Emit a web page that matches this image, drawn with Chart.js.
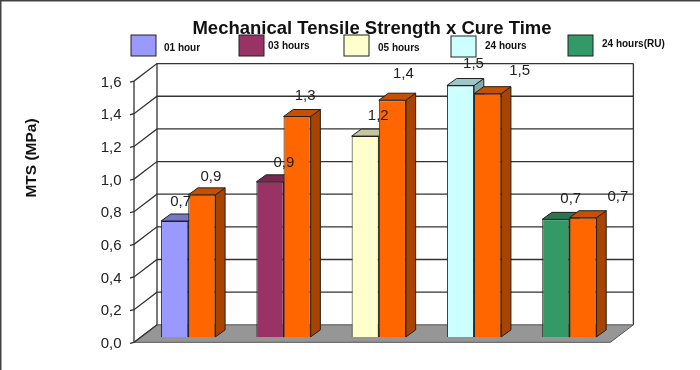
<!DOCTYPE html>
<html lang="en">
<head>
<meta charset="UTF-8">
<title>Mechanical Tensile Strength x Cure Time</title>
<script src="https://cdn.jsdelivr.net/npm/chart.js@4"></script>
<style>
  body { margin: 0; background: #fff; }
  canvas { display: block; }
</style>
</head>
<body>
<canvas id="myChart" width="700" height="370"></canvas>

<script>
var categories = ["01 hour", "03 hours", "05 hours", "24 hours", "24 hours(RU)"];
var firstBars = [0.71, 0.95, 1.23, 1.54, 0.72];
var orangeBars = [0.87, 1.35, 1.45, 1.49, 0.73];
var firstLabels = ["0,7", "0,9", "1,2", "1,5", "0,7"];
var orangeLabels = ["0,9", "1,3", "1,4", "1,5", "0,7"];
var yTicks = ["0,0", "0,2", "0,4", "0,6", "0,8", "1,0", "1,2", "1,4", "1,6"];

var firstColors = ["#9999ff", "#993366", "#ffffcc", "#ccffff", "#339966"];
var orange = "#ff6600";

// label nudges off the top centre of each bar, the original is quite uneven
var firstNudge = [[6, -19], [14, -19], [13, -20], [13, -22], [15, -21]];
var orangeNudge = [[9, -18], [8, -21], [11, -26], [32, -23], [35, -21]];

// legend swatch left, swatch top, text left, text middle
var legendPos = [
    [131, 35, 164, 48],
    [239, 35, 268, 46],
    [344, 35, 378, 48],
    [451, 36, 485, 46],
    [568, 35, 602, 44]
];

function shade(hex, f) {
    var n = parseInt(hex.slice(1), 16);
    var r = Math.round((n >> 16) * f);
    var g = Math.round(((n >> 8) & 255) * f);
    var b = Math.round((n & 255) * f);
    return "rgb(" + r + "," + g + "," + b + ")";
}

function poly(ctx, pts, fill, stroke) {
    ctx.beginPath();
    ctx.moveTo(pts[0][0], pts[0][1]);
    for (var i = 1; i < pts.length; i++) ctx.lineTo(pts[i][0], pts[i][1]);
    ctx.closePath();
    if (fill) { ctx.fillStyle = fill; ctx.fill(); }
    if (stroke) { ctx.strokeStyle = stroke; ctx.lineWidth = 1; ctx.stroke(); }
}

// the bars sit on the chart area, front plane and back wall are offsets from it
var frontDx = -6.6, frontDy = 5.4;
var backDx = 16.4, backDy = -12.1;
var barDepthX = 9.7, barDepthY = 7;

var walls = {
    id: "walls",
    beforeDatasetsDraw: function (chart) {
        var ctx = chart.ctx, y = chart.scales.y, a = chart.chartArea;
        var zero = y.getPixelForValue(0);
        var left = a.left + frontDx, right = a.right + frontDx;
        var line = "#333";
        ctx.save();
        // the photo edge of the original has a dark line on top and left
        ctx.fillStyle = "#444";
        ctx.fillRect(0, 0, 700, 1.5);
        ctx.fillRect(0, 0, 1.5, 370);
        poly(ctx, [
            [left, zero + frontDy],
            [right, zero + frontDy],
            [a.right + backDx, zero + backDy],
            [a.left + backDx, zero + backDy]
        ], "#969696", "#555");
        ctx.strokeStyle = line;
        ctx.lineWidth = 1.3;
        y.ticks.forEach(function (t) {
            var py = y.getPixelForValue(t.value);
            ctx.beginPath();
            ctx.moveTo(left - 4, py + frontDy + 1);
            ctx.lineTo(left, py + frontDy);
            ctx.lineTo(a.left + backDx, py + backDy);
            if (t.value > 0) ctx.lineTo(a.right + backDx, py + backDy);
            ctx.stroke();
        });
        var topY = y.getPixelForValue(1.6);
        ctx.beginPath();
        ctx.moveTo(left, zero + frontDy);
        ctx.lineTo(left, topY + frontDy);
        ctx.moveTo(a.left + backDx, zero + backDy);
        ctx.lineTo(a.left + backDx, topY + backDy);
        ctx.moveTo(a.right + backDx, zero + backDy);
        ctx.lineTo(a.right + backDx, topY + backDy);
        ctx.stroke();
        ctx.restore();
    },
    // datasets are drawn here, left one first, so the orange bars cover its side
    beforeDatasetDraw: function () {
        return false;
    },
    afterDatasetsDraw: function (chart) {
        var ctx = chart.ctx;
        [0, 1].forEach(function (d) {
            var meta = chart.getDatasetMeta(d);
            meta.data.forEach(function (bar) {
                var p = bar.getProps(["x", "y", "base", "width"], true);
                var c = bar.options.backgroundColor;
                var l = p.x - p.width / 2, r = p.x + p.width / 2;
                poly(ctx, [
                    [r, p.y], [r + barDepthX, p.y - barDepthY],
                    [r + barDepthX, p.base - barDepthY], [r, p.base]
                ], shade(c, 0.66), "#222");
                poly(ctx, [
                    [l, p.y], [l + barDepthX, p.y - barDepthY],
                    [r + barDepthX, p.y - barDepthY], [r, p.y]
                ], shade(c, 0.78), "#222");
                bar.draw(ctx);
            });
        });

        ctx.save();
        ctx.font = "15px 'Liberation Sans'";
        ctx.fillStyle = "#222";
        ctx.textAlign = "center";
        ctx.textBaseline = "middle";
        [[firstLabels, firstNudge], [orangeLabels, orangeNudge]].forEach(function (set, d) {
            chart.getDatasetMeta(d).data.forEach(function (bar, i) {
                ctx.fillText(set[0][i], bar.x + set[1][i][0], bar.y + set[1][i][1]);
            });
        });

        // legend, swatches and texts are not on an even spacing in the original
        categories.forEach(function (name, i) {
            var pos = legendPos[i];
            ctx.fillStyle = firstColors[i];
            ctx.strokeStyle = "#222";
            ctx.lineWidth = 1;
            ctx.fillRect(pos[0], pos[1], 25, 21);
            ctx.strokeRect(pos[0], pos[1], 25, 21);
            ctx.fillStyle = "#111";
            ctx.font = "bold 10px 'Liberation Sans'";
            ctx.textAlign = "left";
            ctx.fillText(name, pos[2], pos[3]);
        });

        ctx.translate(32, 158);
        ctx.rotate(-Math.PI / 2);
        ctx.font = "bold 15.5px 'Liberation Sans'";
        ctx.textAlign = "center";
        ctx.fillStyle = "#111";
        ctx.fillText("MTS (MPa)", 0, 0);
        ctx.restore();
    },
    // title is centred over the plot, not over the page
    afterLayout: function (chart) {
        chart.titleBlock.left = 44;
        chart.titleBlock.right = 700;
    }
};

var chart = new Chart(document.getElementById("myChart"), {
    type: "bar",
    data: {
        labels: categories,
        datasets: [
            {
                label: "first",
                data: firstBars,
                backgroundColor: firstColors,
                borderColor: "#222",
                borderWidth: 1
            },
            {
                label: "orange",
                data: orangeBars,
                backgroundColor: orange,
                borderColor: "#222",
                borderWidth: 1
            }
        ]
    },
    options: {
        responsive: false,
        animation: false,
        layout: { padding: { top: 17.5, right: 83, bottom: 25.1, left: 0 } },
        datasets: { bar: { categoryPercentage: 0.57, barPercentage: 1 } },
        plugins: {
            legend: { display: false },
            tooltip: { enabled: false },
            title: {
                display: true,
                text: "Mechanical Tensile Strength x Cure Time",
                color: "#111",
                font: { family: "'Liberation Sans'", size: 18.5, weight: "bold" },
                padding: { top: 0, bottom: 36 }
            }
        },
        scales: {
            x: {
                grid: { display: false },
                border: { display: false },
                ticks: { display: false }
            },
            y: {
                min: 0,
                max: 1.6,
                afterFit: function (scale) { scale.width = 140.6; },
                grid: { display: false },
                border: { display: false },
                ticks: {
                    stepSize: 0.2,
                    labelOffset: 6.8,
                    padding: 11,
                    color: "#222",
                    font: { family: "'Liberation Sans'", size: 15 },
                    callback: function (value, i) { return yTicks[i]; }
                }
            }
        }
    },
    plugins: [walls]
});
</script>
</body>
</html>
